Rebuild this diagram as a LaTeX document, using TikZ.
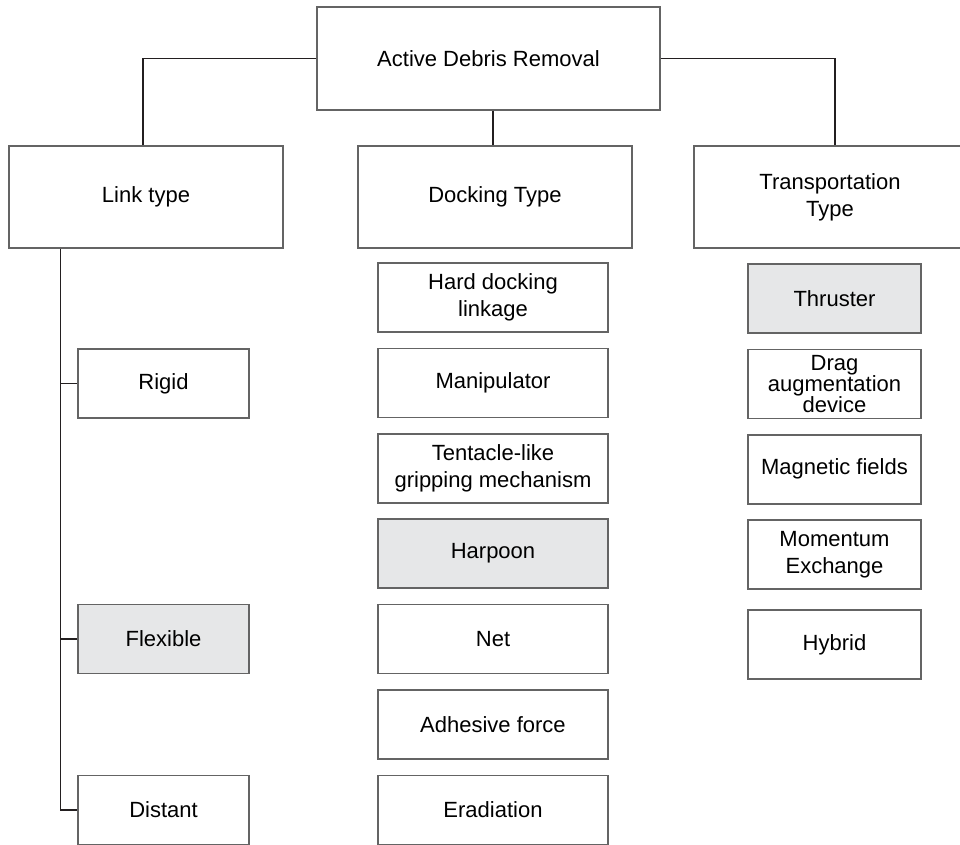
\documentclass[tikz,border=0pt]{standalone}
\usepackage{fontspec}
\setmainfont{Liberation Sans}
\usetikzlibrary{positioning, calc}
\definecolor{boxEdge}{HTML}{646464}
\definecolor{lineDark}{HTML}{231F20}
\definecolor{boxShade}{HTML}{E6E7E8}
\tikzset{
  conn/.style={lineDark, line width=1.1pt},
  boxBase/.style={rectangle, draw=boxEdge, line width=1.1pt, fill=white,
                  align=center, inner sep=0pt},
  boxTop/.style={boxBase, minimum width=257.25pt, minimum height=77.25pt},
  boxHead/.style={boxBase, minimum width=205.5pt, minimum height=76.5pt},
  boxLink/.style={boxBase, minimum width=128.25pt, minimum height=51.75pt},
  boxDock/.style={boxBase, minimum width=172.5pt, minimum height=51.75pt},
  boxTrans/.style={boxBase, minimum width=129.75pt, minimum height=51.75pt},
  shaded/.style={fill=boxShade},
}

\begin{document}
\begin{tikzpicture}[x=0.75pt, y=-0.75pt, node distance=11.2pt,
    font=\fontsize{16.5}{20.5}\selectfont]
    \useasboundingbox (0,0) rectangle (960,845);
    \node[boxTop] (adr) at (488.5,58.5) {Active Debris Removal};
    \node[boxHead] (link) at (146,197) {Link type};
    \node[boxHead] (dock) at (495,197) {Docking Type};
    \node[boxHead, minimum width=204pt] (trans) at (830,197) {Transportation\\Type};

    \node[boxDock] (hard) at (493,297.5) {Hard docking\\linkage};
    \node[boxDock, below=of hard] (manip) {Manipulator};
    \node[boxDock, below=of manip] (tent) {Tentacle-like\\gripping mechanism};
    \node[boxDock, shaded, below=of tent] (harp) {Harpoon};
    \node[boxDock, below=of harp] (net) {Net};
    \node[boxDock, below=of net] (adh) {Adhesive force};
    \node[boxDock, below=of adh] (erad) {Eradiation};

    \node[boxTrans, shaded] (thrust) at (834.5,298.5) {Thruster};
    \node[boxTrans, below=of thrust] (drag) {Drag\\[-4.75pt]augmentation\\[-4.75pt]device};
    \node[boxTrans, below=of drag] (magn) {Magnetic fields};
    \node[boxTrans, below=of magn] (mom) {Momentum\\Exchange};
    \node[boxTrans, below=14.5pt of mom] (hyb) {Hybrid};

    \node[boxLink] (rigid) at (163.5,383.5) {Rigid};
    \node[boxLink, shaded] (flex) at (rigid |- net) {Flexible};
    \node[boxLink] (dist) at (rigid |- erad) {Distant};

    \draw[conn] (adr.west) -| ([xshift=-2.25pt]link.north);
    \draw[conn] (adr.south -| manip.north) -- (manip.north |- dock.north);
    \draw[conn] (adr.east) -| ([xshift=3.75pt]trans.north);
    \coordinate (spine) at ($(link.south -| rigid.west)+(-17,0)$);
    \draw[conn] (spine) |- (dist.west);
    \draw[conn] (spine |- rigid.west) -- (rigid.west);
    \draw[conn] (spine |- flex.west) -- (flex.west);
\end{tikzpicture}
\end{document}
